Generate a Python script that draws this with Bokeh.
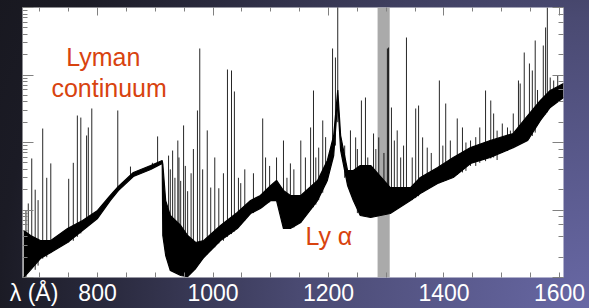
from bokeh.plotting import figure
from bokeh.models import (Range1d, LinearAxis, LogAxis, SingleIntervalTicker, LogTicker,
                          FixedTicker, Label, BoxAnnotation, ColumnDataSource)
from bokeh.embed import file_html
from bokeh.resources import INLINE

# ---- data (wavelength in Å, flux in arbitrary log units) ----
wave = [672, 684, 701, 719, 748, 774, 800, 822, 836, 862, 892, 912, 913, 918, 926, 944,
        956, 970, 984, 1013, 1042, 1065, 1082, 1100, 1110, 1122, 1134, 1152, 1181, 1198,
        1209, 1216, 1221, 1233, 1243, 1255, 1273, 1307, 1342, 1359, 1389, 1416, 1446,
        1480, 1520, 1545, 1567, 1584, 1607]
flux_low = [1.0, 1.3, 1.91, 2.35, 3.30, 4.97, 7.48, 13.8, 19.4, 31.3, 39.8, 48.9, 4.2,
            2.12, 1.27, 1.07, 1.03, 1.36, 1.98, 3.53, 5.32, 8.87, 10.5, 13.8, 13.8, 5.32,
            5.32, 6.53, 13.8, 27.4, 64.2, 419, 76.1, 23.1, 13.8, 8.29, 7.74, 8.87, 13.8,
            17.6, 24.7, 30.3, 49, 60, 84, 107, 212, 330, 464]
flux_high = [4.97, 4.19, 3.53, 3.53, 5.32, 6.99, 9.84, 16.4, 22.3, 35.9, 45.6, 54.1, 48.0,
             13.8, 8.29, 5.89, 4.19, 3.30, 3.53, 5.89, 9.18, 13.8, 16.4, 23.1, 27.4, 19.4,
             16.4, 16.4, 27.4, 54.1, 127, 600, 127, 38.5, 38.5, 45.6, 45.6, 21.5, 21.5,
             30.3, 42.6, 60, 84, 107, 136, 251, 419, 589, 748]

line_wave = [680, 686, 705, 719, 750, 758, 765, 771, 781, 784, 790, 835, 857, 895, 904,
             923, 930, 939, 944, 949, 956, 973, 977, 990, 996, 1010, 1025, 1032, 1037, 1044,
             1060, 1086, 1091, 1110, 1122, 1134, 1152, 1169, 1174, 1183, 1190, 1207, 1212,
             1216, 1238, 1247, 1257, 1264, 1278, 1287, 1302, 1304, 1309, 1314, 1319, 1335,
             1351, 1356, 1363, 1371, 1392, 1403, 1411, 1423, 1432, 1446, 1462, 1472, 1481,
             1486, 1501, 1510, 1520, 1529, 1532, 1539, 1548, 1553, 1558, 1572, 1576, 1579,
             1584, 1590,
             926, 934, 941, 952, 962, 966, 982, 1003, 1018, 1048, 1055, 1070, 1098, 1128,
             1140, 1160, 1178, 1195, 1228, 1250, 1268, 1282, 1296, 1325, 1330, 1345, 1378,
             1398, 1438, 1455, 1492, 1515, 1562, 1597, 676, 692, 697, 712]
line_base = [1.5, 1.5, 1.9, 2.3, 3.3, 3.5, 4.0, 4.5, 5.5, 6.0, 6.5, 19, 29, 41, 45,
             2.0, 1.6, 1.3, 1.2, 1.2, 1.1, 1.6, 1.7, 2.2, 2.5, 3.2, 4.0, 4.4, 4.8, 5.5,
             8.0, 11, 12, 14, 5.3, 5.3, 6.5, 10, 11, 14, 18, 55, 90,
             200, 18, 12, 8.5, 8, 8, 8.5, 9.5, 9.5, 10, 10, 11, 13,
             15, 16, 18, 20, 25, 27, 30, 33, 36, 45, 50, 53, 58,
             60, 70, 75, 84, 95, 100, 105, 115, 125, 140, 240, 260, 280,
             330, 380,
             1.5, 1.4, 1.3, 1.2, 1.3, 1.3, 1.9, 2.8, 3.5, 6, 7, 9, 13, 5.3,
             5.5, 8, 12, 24, 30, 9, 8, 8, 9, 12, 12, 14, 22,
             26, 38, 45, 55, 80, 180, 420, 1.0, 1.3, 1.5, 2.0]
line_peak = [12.5, 58, 161, 49, 29, 50, 251, 234, 127, 167, 319, 298, 44, 50, 123,
             64, 76, 107, 27, 179, 19, 298, 2470, 151, 21.5, 21, 1206, 1166, 570, 30,
             12.5, 227, 60, 60, 107, 49, 107, 167, 589, 84, 212, 2470, 1816,
             20000, 151, 119, 419, 464, 136, 119, 2470, 2555, 330, 107, 151, 3593,
             319, 353, 119, 84, 829, 378, 107, 227, 167, 107, 167, 589, 419,
             269, 191, 167, 269, 829, 748, 2154, 1481, 1166, 3243, 2735, 5058, 10000,
             918, 829,
             40, 30, 60, 45, 35, 80, 40, 60, 35, 25, 40, 35, 45, 30,
             40, 60, 60, 120, 90, 80, 60, 80, 70, 60, 90, 60, 70,
             90, 100, 120, 150, 150, 600, 1000, 10, 20, 14, 30]

gap_band = (1285, 1306)
x_tick_values = [800, 1000, 1200, 1400, 1600]
x_minor_values = list(range(700, 1601, 50))
x_unit_label = "λ (Å)"
x_unit_pos = 690
x_limits = (670, 1607)
y_limits = (1, 1e4)

# ---- figure ----
p = figure(width=589, height=308, x_range=Range1d(*x_limits), y_range=Range1d(*y_limits),
           y_axis_type="log", output_backend="svg", toolbar_location=None,
           min_border_left=22, min_border_right=26, min_border_top=7, min_border_bottom=31,
           background_fill_color="white", border_fill_color=None, outline_line_color=None)
p.styles = {"background": "radial-gradient(circle at 100% 100%, #6868a5 0px, #4a4a72 290px, "
                          "#2a2a3e 480px, #1b1b25 590px, #17171e 700px)"}
p.grid.visible = False

tick_col = "#808080"
hidden = dict(major_label_text_font_size="1px", major_label_text_color=None,
              major_label_standoff=0, axis_label_standoff=0)

bx = p.xaxis[0]
bx.ticker = FixedTicker(ticks=[x_unit_pos] + x_tick_values, minor_ticks=x_minor_values)
bx.major_label_overrides = {x_unit_pos: x_unit_label}
bx.axis_line_color = None
bx.major_tick_in, bx.major_tick_out = 0, 0
bx.minor_tick_in, bx.minor_tick_out = 5, 0
bx.minor_tick_line_color = tick_col
bx.major_label_text_color = "white"
bx.major_label_text_font = "Liberation Sans"
bx.major_label_text_font_size = "23px"
bx.major_label_standoff = 2
bx.axis_label_standoff = 0

top = LinearAxis(ticker=SingleIntervalTicker(interval=200, num_minor_ticks=4),
                 axis_line_color=None, major_tick_in=8, major_tick_out=0,
                 minor_tick_in=4, minor_tick_out=0, major_tick_line_color=tick_col,
                 minor_tick_line_color=tick_col, **hidden)
p.add_layout(top, "above")

ly = p.yaxis[0]
ly.axis_line_color = None
ly.major_tick_in, ly.major_tick_out = 11, 0
ly.minor_tick_in, ly.minor_tick_out = 5, 0
ly.major_tick_line_color = tick_col
ly.minor_tick_line_color = tick_col
ly.major_label_text_font_size = "1px"
ly.major_label_text_color = None
ly.major_label_standoff = 0
ly.axis_label_standoff = 0

ry = LogAxis(ticker=LogTicker(), axis_line_color=None, major_tick_in=11, major_tick_out=0,
             minor_tick_in=5, minor_tick_out=0, major_tick_line_color=tick_col,
             minor_tick_line_color=tick_col, **hidden)
p.add_layout(ry, "right")

# gap band
p.add_layout(BoxAnnotation(left=gap_band[0], right=gap_band[1], fill_color="#aaaaaa",
                           fill_alpha=1, line_color=None, level="underlay"))

# spectrum
src = ColumnDataSource(dict(w=wave, lo=flux_low, hi=flux_high))
p.varea(x="w", y1="lo", y2="hi", source=src, fill_color="black")
p.line(x="w", y="lo", source=src, line_color="black", line_width=1.2)
p.line(x="w", y="hi", source=src, line_color="black", line_width=1.2)

lsrc = ColumnDataSource(dict(w=line_wave, b=line_base, t=line_peak))
p.segment(x0="w", y0="b", x1="w", y1="t", source=lsrc, line_color="black",
          line_width=1, line_alpha=0.85)

# annotations (placed in data coordinates)
red = "#d8430f"
for txt, x, y in [("Lyman", 810, 1879), ("continuum", 820, 631)]:
    p.add_layout(Label(x=x, y=y, text=txt, text_align="center", text_baseline="alphabetic",
                       text_color=red, text_font="Liberation Sans", text_font_size="25px"))
p.add_layout(Label(x=1160, y=4.05, text="Ly α", text_baseline="alphabetic",
                   text_color=red, text_font="Liberation Sans", text_font_size="25px"))

open("out.html", "w").write(file_html(p, INLINE))
